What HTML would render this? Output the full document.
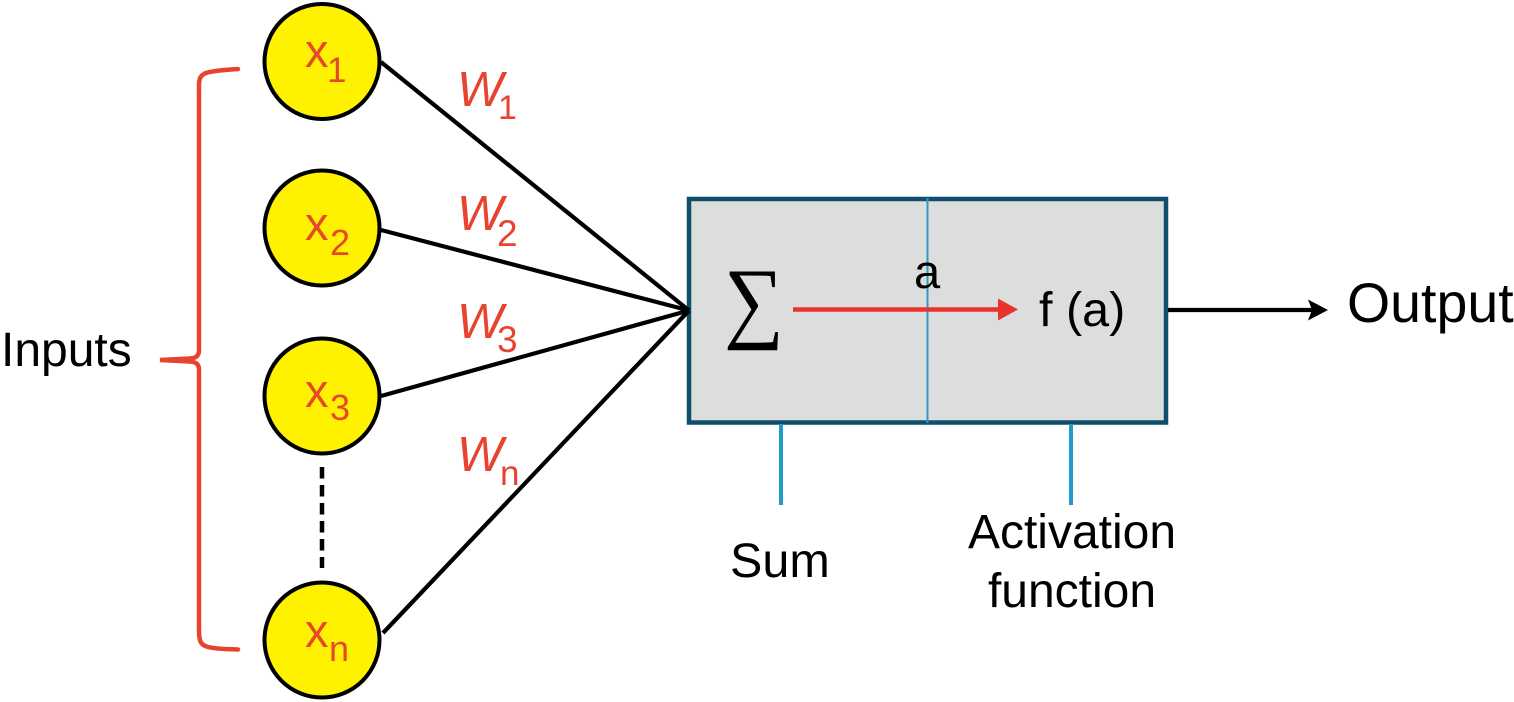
<!DOCTYPE html>
<html>
<head>
<meta charset="utf-8">
<style>
html,body{margin:0;padding:0;background:#fff;width:1514px;height:702px;overflow:hidden}
svg{display:block}
text{font-family:"Liberation Sans",sans-serif}
</style>
</head>
<body>
<svg width="1514" height="702" viewBox="0 0 1514 702" xmlns="http://www.w3.org/2000/svg">
<rect width="1514" height="702" fill="#fff"/>
<!-- box -->
<rect x="689" y="199" width="477" height="223.500" fill="#dcdddd" stroke="#0f4e6c" stroke-width="4.500"/>
<line x1="927.500" y1="198" x2="927.500" y2="423" stroke="#2b9ac4" stroke-width="2"/>
<line x1="781" y1="424" x2="781" y2="505" stroke="#1f9dc8" stroke-width="4"/>
<line x1="1071" y1="424" x2="1071" y2="505" stroke="#1f9dc8" stroke-width="4"/>
<!-- connectors -->
<g stroke="#000" stroke-width="4.200" fill="none">
<line x1="381" y1="62" x2="689" y2="310.500"/>
<line x1="381" y1="230" x2="689" y2="310.500"/>
<line x1="381" y1="396" x2="689" y2="310.500"/>
<line x1="383" y1="633" x2="689" y2="310.500"/>
<line x1="322" y1="467" x2="322" y2="568" stroke-dasharray="11.500 6.500" stroke-width="4.500"/>
<line x1="1168" y1="310" x2="1312" y2="310"/>
</g>
<polygon points="1328,310 1308,299.500 1312,310 1308,320.500" fill="#000"/>
<!-- circles -->
<g fill="#fff200" stroke="#000" stroke-width="4">
<circle cx="322" cy="61.500" r="57.500"/>
<circle cx="322" cy="228" r="57.500"/>
<circle cx="322" cy="396" r="57.500"/>
<circle cx="322" cy="640" r="57.500"/>
</g>
<!-- brace -->
<g fill="none" stroke="#e8432e" stroke-width="4.500" stroke-linecap="round">
<path d="M238 69 C222 70 212 71 206 73 C201 75 199 78 199 85 L199 350 C199 356 196 358 190 358.500 L160 360 L190 361.500 C196 362 199 364 199 370 L199 630 C199 642 201 645 208 647 C215 649 225 649 238 649.500"/>
</g>
<!-- red arrow -->
<line x1="793" y1="309.500" x2="1000" y2="309.500" stroke="#e8332e" stroke-width="4.500"/>
<polygon points="1018,309.500 998,298.500 998,320.500" fill="#e8332e"/>
<!-- x labels -->
<g fill="#e8482a" font-size="47">
<text x="305" y="67">x</text><text x="327" y="82" font-size="35">1</text>
<text x="305" y="240">x</text><text x="330" y="255" font-size="36">2</text>
<text x="305" y="407">x</text><text x="330" y="420" font-size="36">3</text>
<text x="305" y="647">x</text><text x="329" y="661" font-size="36">n</text>
</g>
<!-- w labels -->
<g fill="#e8432e" font-size="49" font-style="italic">
<text x="457" y="106">W</text>
<text x="457" y="230">W</text>
<text x="457" y="338">W</text>
<text x="457" y="471">W</text>
</g>
<g fill="#e8432e" font-size="37">
<text x="498" y="119" font-size="34">1</text>
<text x="497" y="246">2</text>
<text x="497" y="352">3</text>
<text x="500" y="485" font-size="35">n</text>
</g>
<!-- black text -->
<g fill="#000">
<text x="1" y="366" font-size="48">Inputs</text>
<text x="1347" y="322" font-size="55.500">Output</text>
<text x="914" y="288" font-size="47">a</text>
<text x="1039" y="326" font-size="48.500">f (a)</text>
<text x="730" y="577" font-size="48.500">Sum</text>
<text x="1072" y="548" font-size="48" text-anchor="middle">Activation</text>
<text x="1072" y="607" font-size="48" text-anchor="middle">function</text>
<text transform="translate(724,331) scale(1,1.08)" font-size="84" style="font-family:'Liberation Serif',serif">∑</text>
</g>
</svg>
</body>
</html>
